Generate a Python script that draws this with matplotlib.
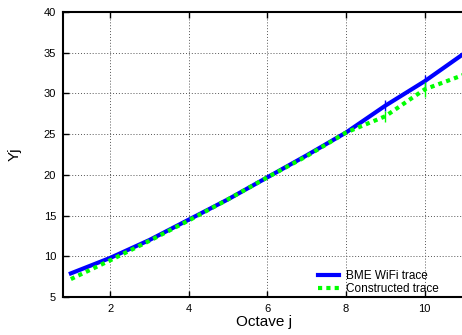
import numpy as np
import matplotlib
matplotlib.use('Agg')
import matplotlib.pyplot as plt

plt.rcParams['font.family'] = ['Liberation Sans', 'DejaVu Sans']

# data
octave = [1, 2, 3, 4, 5, 6, 7, 8, 9, 10, 11]
bme_wifi = [7.9, 9.8, 12.0, 14.5, 17.0, 19.7, 22.4, 25.2, 28.5, 31.5, 34.9]
constructed = [7.2, 9.5, 11.9, 14.4, 17.0, 19.7, 22.3, 25.2, 27.2, 30.5, 32.3]
err_x = [9, 10]
bme_err = [0.65, 0.8]
con_err = [0.65, 0.9]

fig = plt.figure(figsize=(4.62, 3.35), dpi=100)
ax = fig.add_axes([63/462, 1-297/335, (464-63)/462, (297-12)/335])

ax.plot(octave, bme_wifi, color='#0000ff', lw=3, label='BME WiFi trace', zorder=3)
ax.errorbar(err_x, [bme_wifi[8], bme_wifi[9]], yerr=bme_err, fmt='none',
            ecolor='#0000ff', elinewidth=1, capsize=0, zorder=3)
ax.plot(octave, constructed, color='#00ff00', lw=3, ls=(0, (1, 1)),
        label='Constructed trace', zorder=4)
ax.errorbar(err_x, [constructed[8], constructed[9]], yerr=con_err, fmt='none',
            ecolor='#00ff00', elinewidth=1, capsize=0, zorder=4)

ax.set_xlim(0.8, 11)
ax.set_ylim(5, 40)
ax.set_xticks([2, 4, 6, 8, 10])
ax.set_yticks([5, 10, 15, 20, 25, 30, 35, 40])
ax.grid(True, color='#555555', ls=(0, (1, 2)), lw=0.7)
ax.tick_params(direction='in', top=True, right=False, labelsize=8, length=4, width=1, pad=5)
for s in ['left', 'bottom', 'top']:
    ax.spines[s].set_linewidth(1.5)
ax.spines['right'].set_visible(False)

ax.set_xlabel('Octave j', fontsize=11, labelpad=1)
ax.set_ylabel('Yj', fontsize=11, labelpad=16)

ax.legend(loc='lower right', bbox_to_anchor=(0.955, -0.018), frameon=False, fontsize=8.5,
          handlelength=1.8, handletextpad=0.6, labelspacing=0.1, borderaxespad=0.2)

fig.savefig('out.png', dpi=100)
